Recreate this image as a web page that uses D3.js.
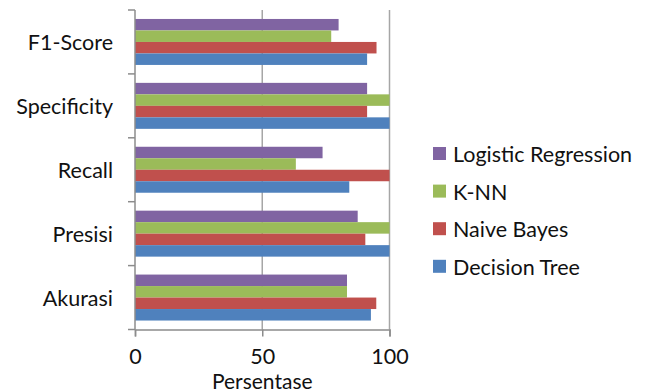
<!DOCTYPE html>
<html>
<head>
<meta charset="utf-8">
<script src="https://cdn.jsdelivr.net/npm/d3@7"></script>
<style>
  html, body { margin: 0; padding: 0; background: #fff; }
  svg { display: block; }
  text { font-family: Lato, "Open Sans", sans-serif; fill: #111; }
</style>
</head>
<body>
<svg id="chart" width="651" height="392"></svg>
<script>
// Evaluation metrics per classifier (percent)
const categories = ["F1-Score", "Specificity", "Recall", "Presisi", "Akurasi"];
const seriesNames = ["Logistic Regression", "K-NN", "Naive Bayes", "Decision Tree"];
const logisticRegression = [80.0, 91.2, 73.7, 87.5, 83.3];
const knn               = [77.1, 100, 63.2, 100, 83.3];
const naiveBayes        = [94.9, 91.2, 100, 90.5, 94.8];
const decisionTree      = [91.2, 100, 84.2, 100, 92.7];
const xTicks = [0, 50, 100];
const axisTitle = "Persentase";

const seriesValues = [logisticRegression, knn, naiveBayes, decisionTree];
const colors = ["#8064A2", "#9BBB59", "#C0504D", "#4F81BD"];

const svg = d3.select("#chart");

const x = d3.scaleLinear().domain([0, 100]).range([135, 389.5]);
const y = d3.scaleBand().domain(categories).range([10, 329.5]).padding(0);
const yInner = d3.scaleBand().domain(seriesNames).range([0, y.bandwidth()])
  .paddingInner(0).paddingOuter(0.78);

const axisColor = "#8c8c8c";

// vertical gridlines
svg.append("g").selectAll("line").data(xTicks.filter(d => d > 0)).join("line")
  .attr("x1", d => x(d)).attr("x2", d => x(d))
  .attr("y1", y.range()[0]).attr("y2", y.range()[1])
  .attr("stroke", "#a6a6a6").attr("stroke-width", 1.5);

// bars
const rows = [];
categories.forEach((c, i) => {
  seriesNames.forEach((s, j) => rows.push({ c, s, v: seriesValues[j][i], color: colors[j] }));
});
svg.append("g").selectAll("rect").data(rows).join("rect")
  .attr("x", x(0))
  .attr("y", d => y(d.c) + yInner(d.s))
  .attr("width", d => x(d.v) - x(0))
  .attr("height", yInner.bandwidth())
  .attr("fill", d => d.color);

// x axis
const xAxis = d3.axisBottom(x).tickValues(xTicks).tickSize(7).tickPadding(12);
const gx = svg.append("g").attr("transform", `translate(0,${y.range()[1]})`).call(xAxis);
gx.select(".domain").attr("stroke", axisColor).attr("stroke-width", 1.5);
gx.selectAll(".tick line").attr("stroke", axisColor).attr("stroke-width", 1.5);
gx.selectAll(".tick text").style("font-size", "21.5px").attr("fill", "#111");

// y axis line with category separator ticks
svg.append("line")
  .attr("x1", x(0)).attr("x2", x(0))
  .attr("y1", y.range()[0]).attr("y2", y.range()[1])
  .attr("stroke", axisColor).attr("stroke-width", 1.5);
const bounds = categories.map(c => y(c)).concat([y.range()[1]]);
svg.append("g").selectAll("line").data(bounds).join("line")
  .attr("x1", x(0) - 7).attr("x2", x(0))
  .attr("y1", d => d).attr("y2", d => d)
  .attr("stroke", axisColor).attr("stroke-width", 1.5);

// category labels
svg.append("g").selectAll("text").data(categories).join("text")
  .attr("x", 113)
  .attr("y", d => y(d) + y.bandwidth() / 2)
  .attr("text-anchor", "end")
  .attr("dominant-baseline", "central")
  .style("font-size", "21.5px")
  .text(d => d);

// axis title
svg.append("text")
  .attr("x", x(50))
  .attr("y", 389)
  .attr("text-anchor", "middle")
  .style("font-size", "21px")
  .text(axisTitle);

// legend
const legend = svg.append("g").attr("transform", "translate(433,154)");
const item = legend.selectAll("g").data(seriesNames).join("g")
  .attr("transform", (d, i) => `translate(0,${i * 37.6})`);
item.append("rect")
  .attr("x", 0).attr("y", -7).attr("width", 13).attr("height", 13)
  .attr("fill", (d, i) => colors[i]);
item.append("text")
  .attr("x", 20).attr("y", 0)
  .attr("dominant-baseline", "central")
  .style("font-size", "21.5px")
  .text(d => d);
</script>
</body>
</html>
